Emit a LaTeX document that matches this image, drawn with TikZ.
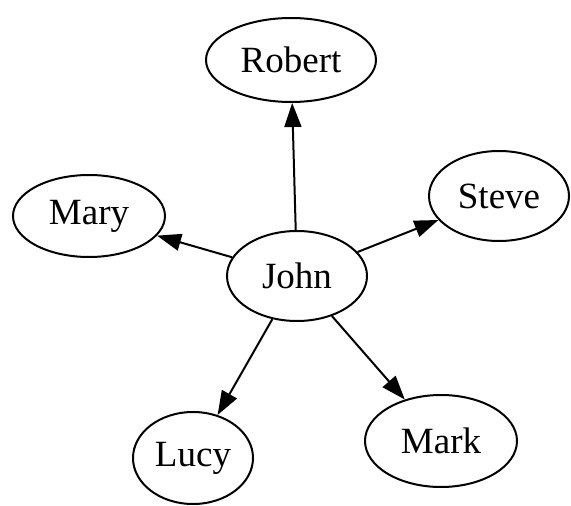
\documentclass[tikz,border=0pt]{standalone}
\usepackage{fontspec}
\setmainfont{Liberation Serif}
\usetikzlibrary{shapes.geometric,arrows.meta}
\begin{document}
\begin{tikzpicture}[x=1pt,y=-1pt,
  person/.style={draw=black,line width=2pt,ellipse,inner sep=0pt,
    font=\fontsize{37}{41}\selectfont},
  link/.style={draw=black,line width=2pt,-{Triangle[length=24pt,width=17pt]}}]
\useasboundingbox (0,0) rectangle (571,506);
\node[person,minimum width=170pt,minimum height=84pt] (robert) at (291,60) {Robert};
\node[person,minimum width=152pt,minimum height=82pt] (mary) at (89,216) {Mary};
\node[person,minimum width=140pt,minimum height=90pt] (steve) at (499,196) {Steve};
\node[person,minimum width=140pt,minimum height=90pt] (john) at (297,276) {John};
\node[person,minimum width=120pt,minimum height=92pt] (lucy) at (193,458) {Lucy};
\node[person,minimum width=152pt,minimum height=92pt] (mark) at (441,441) {Mark};
\draw[link] (john) -- (robert);
\draw[link] (john) -- (mary);
\draw[link] (john) -- (steve);
\draw[link] (john) -- (lucy);
\draw[link] (john) -- (mark);
\end{tikzpicture}
\end{document}
